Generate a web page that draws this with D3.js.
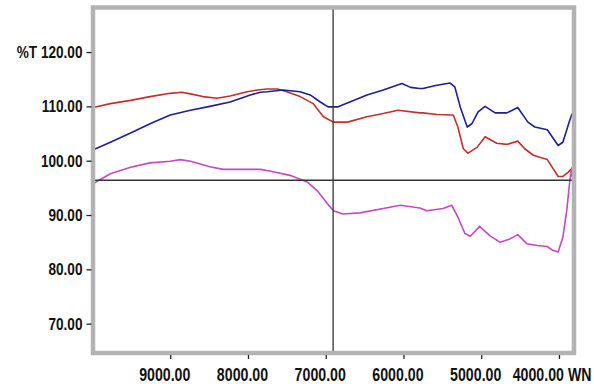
<!DOCTYPE html>
<html>
<head>
<meta charset="utf-8">
<script src="https://cdn.jsdelivr.net/npm/d3@7"></script>
<style>
  html, body { margin: 0; padding: 0; background: #fff; }
  svg { display: block; }
  .lbl { font-family: 'Liberation Sans', Arial, sans-serif; font-weight: bold; fill: #111; }
</style>
</head>
<body>
<div id="chart"></div>
<script>
// wavenumber (WN) / %T readings per trace
const redWN = [9990, 9770, 9510, 9260, 9000, 8850, 8740, 8580, 8400, 8230, 8010, 7880, 7750, 7620, 7500, 7330, 7160, 7030, 6900, 6720, 6470, 6260, 6070, 5790, 5750, 5570, 5360, 5300, 5230, 5170, 5050, 4950, 4800, 4670, 4530, 4440, 4330, 4150, 4010, 3950, 3880, 3845, 3830];
const redT = [109.8, 110.5, 111.1, 111.8, 112.4, 112.6, 112.3, 111.8, 111.5, 111.9, 112.7, 113.0, 113.2, 113.2, 112.7, 111.8, 110.5, 108.1, 107.1, 107.1, 108.1, 108.7, 109.3, 108.8, 108.8, 108.5, 108.4, 106.2, 102.2, 101.4, 102.5, 104.4, 103.2, 103.0, 103.6, 102.2, 101.0, 100.2, 97.1, 97.1, 97.9, 98.4, 97.0];

const blueWN = [9990, 9770, 9510, 9260, 9000, 8740, 8490, 8230, 7970, 7840, 7750, 7550, 7330, 7200, 7070, 6970, 6850, 6690, 6470, 6260, 6020, 5910, 5790, 5750, 5570, 5400, 5340, 5270, 5180, 5120, 5040, 4950, 4820, 4670, 4530, 4400, 4310, 4150, 4010, 3950, 3860, 3830];
const blueT = [102.0, 103.4, 105.1, 106.8, 108.4, 109.3, 110.0, 110.8, 112.1, 112.6, 112.7, 113.0, 112.7, 112.1, 110.8, 109.9, 109.9, 110.8, 112.1, 113.0, 114.2, 113.5, 113.3, 113.3, 113.9, 114.3, 113.6, 109.9, 106.2, 106.8, 109.0, 110.0, 108.8, 108.8, 109.8, 107.1, 106.2, 105.7, 102.8, 103.4, 107.5, 108.7];

const magWN = [9990, 9770, 9510, 9260, 9000, 8870, 8740, 8490, 8320, 8100, 7840, 7720, 7460, 7240, 7110, 6980, 6900, 6780, 6560, 6260, 6040, 5790, 5700, 5490, 5380, 5300, 5210, 5140, 5020, 4890, 4760, 4630, 4530, 4410, 4280, 4150, 4080, 4010, 3950, 3900, 3860, 3830];
const magT = [95.8, 97.6, 98.8, 99.6, 99.9, 100.2, 99.9, 98.9, 98.4, 98.4, 98.4, 98.1, 97.3, 96.1, 94.5, 92.1, 90.8, 90.2, 90.4, 91.2, 91.8, 91.3, 90.8, 91.2, 91.8, 89.6, 86.6, 86.1, 87.9, 86.2, 85.0, 85.6, 86.4, 84.7, 84.4, 84.2, 83.5, 83.2, 85.9, 90.8, 96.4, 98.8];

const xTicks = [9000, 8000, 7000, 6000, 5000, 4000];
const yTicks = [120, 110, 100, 90, 80, 70];
const cursorWN = 6905;
const cursorT = 96.4;

const width = 594, height = 389;
const plot = { left: 93, right: 574, top: 7.5, bottom: 353 };

const x = d3.scaleLinear().domain([10000, 3800]).range([92.5, 574.5]);
const y = d3.scaleLinear().domain([64.6, 128.2]).range([353, 7.5]);

const svg = d3.select('#chart').append('svg')
  .attr('width', width)
  .attr('height', height);

// squeeze text to look like a narrow face (no narrow font installed)
function narrow(sel, k) {
  sel.each(function () {
    const len = this.getComputedTextLength();
    d3.select(this)
      .attr('textLength', len * k)
      .attr('lengthAdjust', 'spacingAndGlyphs');
  });
}

svg.append('defs').append('clipPath').attr('id', 'clip')
  .append('rect')
  .attr('x', plot.left).attr('y', plot.top)
  .attr('width', plot.right - plot.left).attr('height', plot.bottom - plot.top);

const series = [
  { wn: redWN, t: redT, color: '#c3302c' },
  { wn: blueWN, t: blueT, color: '#1d1f92' },
  { wn: magWN, t: magT, color: '#c449c2' },
];

const line = d3.line().x(d => x(d[0])).y(d => y(d[1]));
const g = svg.append('g').attr('clip-path', 'url(#clip)');

series.forEach(s => {
  g.append('path')
    .datum(s.wn.map((w, i) => [w, s.t[i]]))
    .attr('fill', 'none')
    .attr('stroke', s.color)
    .attr('stroke-width', 1.6)
    .attr('stroke-linejoin', 'round')
    .attr('d', line);
});

// crosshair
g.append('line')
  .attr('x1', x(cursorWN)).attr('x2', x(cursorWN))
  .attr('y1', plot.top).attr('y2', plot.bottom)
  .attr('stroke', '#333').attr('stroke-width', 1.3);
g.append('line')
  .attr('x1', plot.left).attr('x2', plot.right)
  .attr('y1', y(cursorT)).attr('y2', y(cursorT))
  .attr('stroke', '#333').attr('stroke-width', 1.3);

// frame
svg.append('rect')
  .attr('x', plot.left).attr('y', plot.top)
  .attr('width', plot.right - plot.left).attr('height', plot.bottom - plot.top)
  .attr('fill', 'none')
  .attr('stroke', '#b3b3b3')
  .attr('stroke-width', 4.5);

// y axis
const yAxis = svg.append('g')
  .attr('transform', `translate(${plot.left - 1.5},0)`)
  .call(d3.axisLeft(y).tickValues(yTicks).tickSize(5).tickPadding(4)
    .tickFormat(d => (d === 120 ? '%T ' : '') + d3.format('.2f')(d)));
yAxis.select('.domain').remove();
yAxis.selectAll('line').attr('stroke', '#222').attr('stroke-width', 1.3);
yAxis.selectAll('text').attr('class', 'lbl').style('font-size', '17px').attr('fill', '#111')
  .call(narrow, 0.8);

// x axis; the last label carries the unit
const xAxis = svg.append('g')
  .attr('transform', `translate(0,${plot.bottom + 2})`)
  .call(d3.axisBottom(x).tickValues(xTicks).tickSize(4).tickPadding(10)
    .tickFormat(d => d3.format('.2f')(d) + (d === 4000 ? ' WN' : '')));
xAxis.select('.domain').remove();
xAxis.selectAll('line').attr('stroke', '#222').attr('stroke-width', 1.3);
xAxis.selectAll('text').attr('class', 'lbl').style('font-size', '17.5px').attr('fill', '#111')
  .attr('text-anchor', d => (d === 4000 ? 'end' : 'middle'))
  .attr('dx', d => (d === 4000 ? width - 3 - x(4000) : -6))
  .call(narrow, 0.81);
</script>
</body>
</html>
